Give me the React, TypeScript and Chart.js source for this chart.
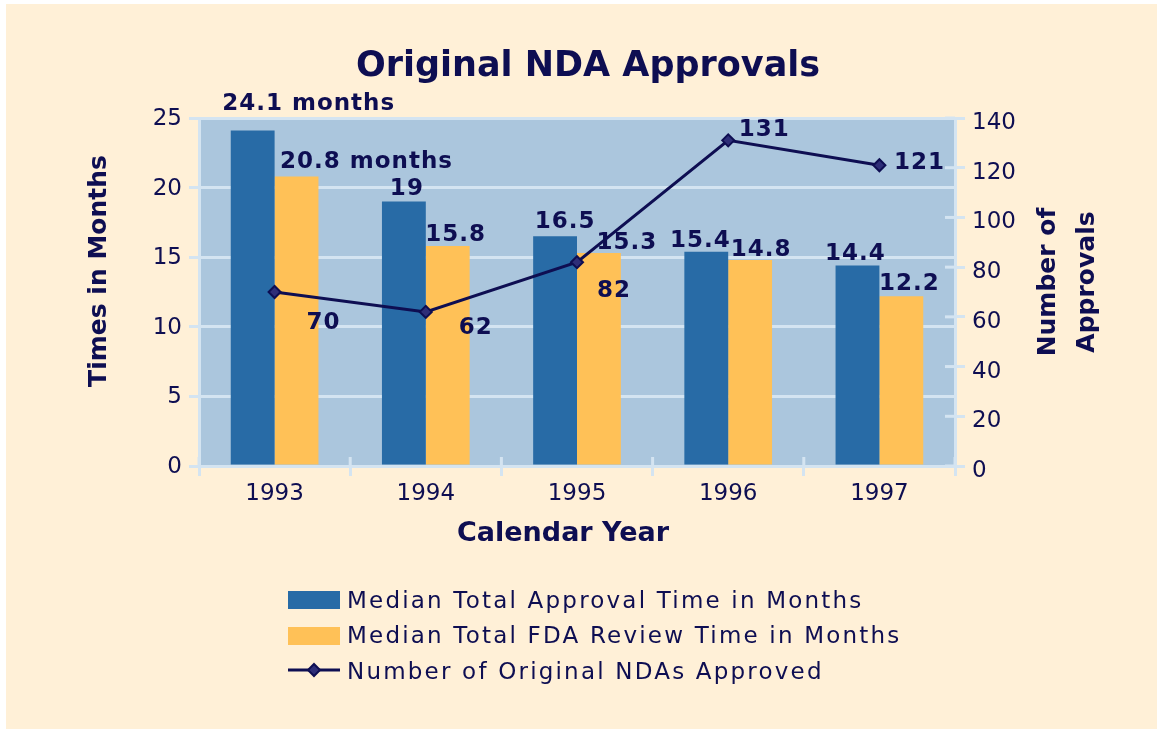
import { useEffect, useRef } from "react";
import { Chart, registerables } from "chart.js";

Chart.register(...registerables);

// ---- data ----
const years = ["1993", "1994", "1995", "1996", "1997"];
const approvalMonths = [24.1, 19, 16.5, 15.4, 14.4];
const reviewMonths = [20.8, 15.8, 15.3, 14.8, 12.2];
const ndaCounts = [70, 62, 82, 131, 121];
const seriesNames = [
  "Median Total Approval Time in Months",
  "Median Total FDA Review Time in Months",
  "Number of Original NDAs Approved",
];
const leftMax = 25;
const leftStep = 5;
const rightMax = 140;
const rightStep = 20;

// label nudges (label offsets from their mark, px)
const approvalNudge = [[56, -26], [3, -12], [10, -14], [-6, -11], [-2, -12]];
const reviewNudge = [[70, -14], [8, -11], [28, -10], [11, -10], [8, -12]];
const countNudge = [[49, 31], [50, 16], [37, 29], [36, -10], [40, -2]];

// ---- styles ----
const CREAM = "#FFF0D7";
const PLOT = "#ABC6DD";
const GRID = "#D4E4F1";
const NAVY = "#0E0E52";
const BLUE = "#286BA6";
const ORANGE = "#FFC157";
const FONT = "'DejaVu Sans', sans-serif";

const decor = {
  id: "decor",
  beforeDraw(chart: any) {
    const { ctx, chartArea: a, width, height } = chart;
    ctx.save();
    ctx.fillStyle = "#ffffff";
    ctx.fillRect(0, 0, width, height);
    ctx.fillStyle = CREAM;
    ctx.fillRect(6, 4, width - 6, height - 4);
    ctx.fillStyle = PLOT;
    ctx.fillRect(a.left, a.top, a.right - a.left, a.bottom - a.top);
    ctx.restore();
  },
  beforeDatasetsDraw(chart: any) {
    const { ctx, chartArea: a } = chart;
    ctx.save();
    ctx.strokeStyle = GRID;
    ctx.lineWidth = 3;
    const y1 = chart.scales.y1;
    for (let v = 0; v <= rightMax; v += rightStep) {
      const py = y1.getPixelForValue(v);
      ctx.beginPath();
      ctx.moveTo(a.right - 10, py);
      ctx.lineTo(a.right, py);
      ctx.stroke();
    }
    for (let i = 0; i <= years.length; i++) {
      const px = a.left + ((a.right - a.left) * i) / years.length;
      ctx.beginPath();
      ctx.moveTo(px, a.bottom - 9);
      ctx.lineTo(px, a.bottom);
      ctx.stroke();
    }
    ctx.restore();
  },
  afterDatasetsDraw(chart: any) {
    const { ctx } = chart;
    ctx.save();
    ctx.fillStyle = NAVY;
    ctx.font = `bold 23px ${FONT}`;
    (ctx as any).letterSpacing = "1px";
    ctx.textAlign = "center";
    ctx.textBaseline = "middle";
    const m0 = chart.getDatasetMeta(0).data;
    const m1 = chart.getDatasetMeta(1).data;
    const m2 = chart.getDatasetMeta(2).data;
    approvalMonths.forEach((v, i) => {
      const t = i === 0 ? `${v} months` : `${v}`;
      ctx.fillText(t, m0[i].x + approvalNudge[i][0], m0[i].y + approvalNudge[i][1]);
    });
    reviewMonths.forEach((v, i) => {
      const t = i === 0 ? `${v} months` : `${v}`;
      ctx.fillText(t, m1[i].x + reviewNudge[i][0], m1[i].y + reviewNudge[i][1]);
    });
    ndaCounts.forEach((v, i) => {
      ctx.fillText(`${v}`, m2[i].x + countNudge[i][0], m2[i].y + countNudge[i][1]);
    });
    ctx.restore();
  },
  afterDraw(chart: any) {
    const { ctx } = chart;
    ctx.save();
    ctx.fillStyle = NAVY;
    ctx.textBaseline = "alphabetic";
    ctx.textAlign = "center";
    // title
    ctx.font = `bold 35px ${FONT}`;
    ctx.fillText("Original NDA Approvals", 588, 76);
    // x title
    ctx.font = `bold 27px ${FONT}`;
    ctx.fillText("Calendar Year", 563, 541);
    // left title
    ctx.font = `bold 25px ${FONT}`;
    ctx.save();
    ctx.translate(106, 271);
    ctx.rotate(-Math.PI / 2);
    ctx.fillText("Times in Months", 0, 0);
    ctx.restore();
    // right title
    ctx.save();
    ctx.translate(1055, 282);
    ctx.rotate(-Math.PI / 2);
    ctx.fillText("Number of", 0, 0);
    ctx.restore();
    ctx.save();
    ctx.translate(1094, 282);
    ctx.rotate(-Math.PI / 2);
    ctx.fillText("Approvals", 0, 0);
    ctx.restore();

    // legend
    ctx.textAlign = "left";
    ctx.font = `23px ${FONT}`;
    (ctx as any).letterSpacing = "2.2px";
    ctx.fillStyle = BLUE;
    ctx.fillRect(288, 591, 52, 18);
    ctx.fillStyle = ORANGE;
    ctx.fillRect(288, 627, 52, 18);
    ctx.strokeStyle = NAVY;
    ctx.lineWidth = 3;
    ctx.beginPath();
    ctx.moveTo(288, 670);
    ctx.lineTo(340, 670);
    ctx.stroke();
    ctx.beginPath();
    ctx.moveTo(314, 664);
    ctx.lineTo(320, 670);
    ctx.lineTo(314, 676);
    ctx.lineTo(308, 670);
    ctx.closePath();
    ctx.fillStyle = "#2E2E78";
    ctx.fill();
    ctx.lineWidth = 2;
    ctx.stroke();
    ctx.fillStyle = NAVY;
    ctx.fillText(seriesNames[0], 347, 608);
    ctx.fillText(seriesNames[1], 347, 643);
    ctx.fillText(seriesNames[2], 347, 679);
    ctx.restore();
  },
};

export default function App() {
  const ref = useRef<HTMLCanvasElement | null>(null);
  useEffect(() => {
    document.body.style.margin = "0";
    const canvas = ref.current;
    if (!canvas) return;
    const tickFont = { family: FONT, size: 23 };
    const chart = new Chart(canvas, {
      data: {
        labels: years,
        datasets: [
          {
            type: "bar",
            label: seriesNames[0],
            data: approvalMonths,
            backgroundColor: BLUE,
            borderWidth: 0,
            yAxisID: "y",
            order: 1,
            categoryPercentage: 0.58,
            barPercentage: 1,
          },
          {
            type: "bar",
            label: seriesNames[1],
            data: reviewMonths,
            backgroundColor: ORANGE,
            borderWidth: 0,
            yAxisID: "y",
            order: 1,
            categoryPercentage: 0.58,
            barPercentage: 1,
          },
          {
            type: "line",
            label: seriesNames[2],
            data: ndaCounts,
            borderColor: NAVY,
            borderWidth: 3,
            pointStyle: "rectRot",
            pointRadius: 6,
            pointBackgroundColor: "#2E2E78",
            pointBorderColor: NAVY,
            pointBorderWidth: 2,
            yAxisID: "y1",
            order: 0,
            tension: 0,
          },
        ] as any,
      },
      plugins: [decor],
      options: {
        responsive: false,
        animation: false,
        events: [],
        layout: { padding: { top: 118, left: 0, right: 0, bottom: 0 } },
        plugins: {
          legend: { display: false },
          title: { display: false },
          tooltip: { enabled: false },
        },
        scales: {
          x: {
            offset: true,
            grid: {
              offset: true,
              drawOnChartArea: false,
              color: GRID,
              lineWidth: 3,
              tickLength: 10,
            },
            border: { color: GRID, width: 3 },
            ticks: { color: NAVY, font: tickFont, padding: 4 },
            afterFit: (s: any) => {
              s.height = 263;
            },
          },
          y: {
            position: "left",
            min: 0,
            max: leftMax,
            ticks: { stepSize: leftStep, color: NAVY, font: tickFont, padding: 7, labelOffset: 1 },
            grid: { color: GRID, lineWidth: 3, tickLength: 10 },
            border: { color: GRID, width: 3 },
            afterFit: (s: any) => {
              s.width = 199;
            },
          },
          y1: {
            position: "right",
            min: 0,
            max: rightMax,
            ticks: {
              stepSize: rightStep,
              color: NAVY,
              font: tickFont,
              padding: 7,
              labelOffset: 5,
            },
            grid: { drawOnChartArea: false, color: GRID, lineWidth: 3, tickLength: 10 },
            border: { color: GRID, width: 3 },
            afterFit: (s: any) => {
              s.width = 202;
            },
          },
        },
      } as any,
    });
    return () => chart.destroy();
  }, []);
  return (
    <canvas
      ref={ref}
      width={1157}
      height={729}
      style={{ display: "block", width: 1157, height: 729 }}
    />
  );
}
